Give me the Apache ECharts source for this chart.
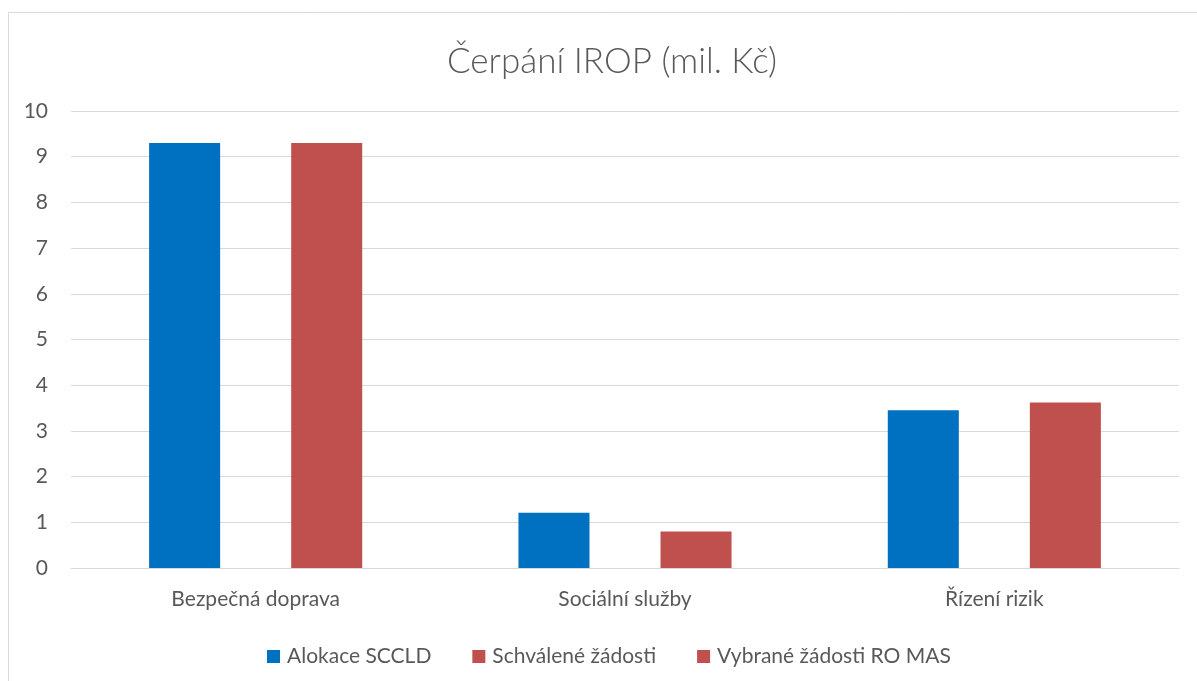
<!DOCTYPE html>
<html><head><meta charset="utf-8">
<script src="https://cdn.jsdelivr.net/npm/echarts@6/dist/echarts.min.js"></script>
<style>html,body{margin:0;padding:0;background:#fff}#c{width:1197px;height:681px}</style>
</head><body><div id="c"></div>
<script>
const categories = ['Bezpečná doprava', 'Sociální služby', 'Řízení rizik'];
const seriesNames = ['Alokace SCCLD', 'Schválené žádosti', 'Vybrané žádosti RO MAS'];
const alokace = [9.3, 1.21, 3.45];
const schvalene = [null, null, null];
const vybrane = [9.3, 0.8, 3.62];
const yTicks = [0, 10, 1];

const font = 'Lato, "Open Sans", sans-serif';
const chart = echarts.init(document.getElementById('c'));
chart.setOption({
  animation: false,
  graphic: [{type: 'rect', shape: {x: 8.5, y: 12.5, width: 1250, height: 760}, style: {fill: 'none', stroke: '#d9d9d9', lineWidth: 1}, silent: true}],
  title: {text: 'Čerpání IROP (mil. Kč)', left: 442, top: 39, textStyle: {fontFamily: font, fontWeight: 300, fontSize: 35, color: '#595959'}},
  legend: {top: 641, left: 262, itemWidth: 13, itemHeight: 13, itemGap: 41, icon: 'rect',
    textStyle: {fontFamily: font, fontSize: 21, color: '#595959', padding: [0, 0, 0, 2]},
    data: seriesNames},
  grid: {left: 71, right: 18, top: 111, bottom: 113, containLabel: false},
  xAxis: {type: 'category', data: categories,
    axisLine: {lineStyle: {color: '#d9d9d9'}}, axisTick: {show: false},
    axisLabel: {color: '#595959', fontFamily: font, fontSize: 21, margin: 21}},
  yAxis: {type: 'value', min: yTicks[0], max: yTicks[1], interval: yTicks[2],
    axisLine: {show: false}, axisTick: {show: false},
    splitLine: {lineStyle: {color: '#d9d9d9', width: 1}},
    axisLabel: {color: '#595959', fontFamily: font, fontSize: 21, margin: 23}},
  series: [
    {name: seriesNames[0], type: 'bar', data: alokace, barGap: '0%', barCategoryGap: '42.3%', itemStyle: {color: '#0070C0'}},
    {name: seriesNames[1], type: 'bar', data: schvalene, itemStyle: {color: '#C0504D'}},
    {name: seriesNames[2], type: 'bar', data: vybrane, itemStyle: {color: '#C0504D'}}
  ]
});
</script></body></html>
